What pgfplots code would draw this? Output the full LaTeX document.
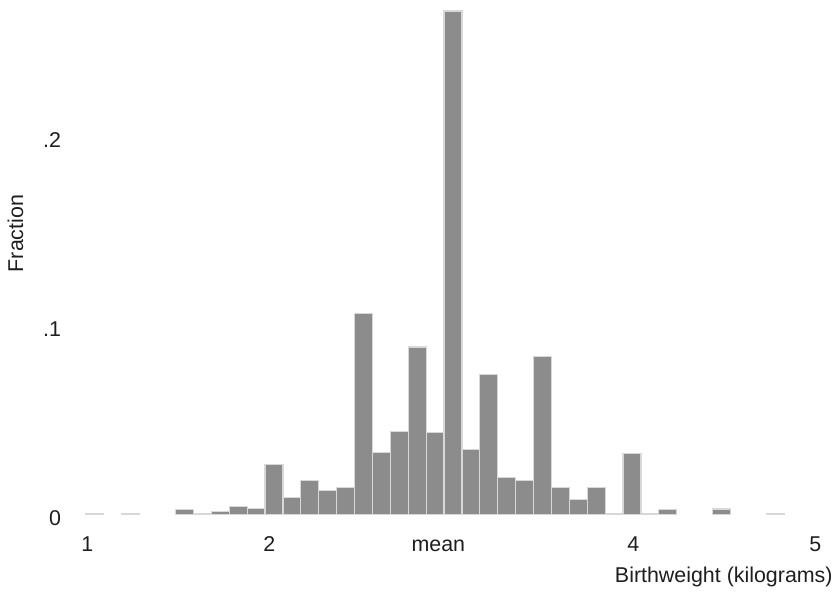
\documentclass[border=0pt]{standalone}
\usepackage{fontspec}
\setmainfont{Liberation Sans}
\usepackage{pgfplots}
\pgfplotsset{compat=1.18}
\definecolor{barfill}{HTML}{8C8C8C}
\definecolor{barline}{HTML}{D8D8D8}
\definecolor{txt}{HTML}{1E1E1E}

\begin{document}
\begin{tikzpicture}[font=\fontsize{10.7pt}{12.8pt}\selectfont]
% page frame: the axis box's lower left corner sits at (0,0)
\path[use as bounding box] (-35pt,-39.75pt) rectangle (384.5pt,257.25pt);
\begin{axis}[
    scale only axis,
    width=380pt, height=255.15pt,
    xmin=0.90522, xmax=5.08104,
    ymin=0, ymax=0.27,
    clip=false,
    axis line style={draw=none},
    tick style={draw=none},
    /pgf/number format/assume math mode=true,
    xtick={1,2,2.929,4,5},
    xticklabels={1,2,mean,4,5},
    ytick={0,0.1,0.2},
    yticklabels={0,.1,.2},
    xticklabel style={anchor=base, yshift=-14.25pt, text=txt},
    yticklabel style={anchor=base east, yshift=-5.25pt, xshift=-1pt, text=txt},
    ybar, bar shift=0pt, bar width=0.09835,
]
% fraction of births per bin (bin width about 0.098 kg); empty bins left out
\addplot[fill=barfill, draw=barline, line width=0.6pt] coordinates {
    (1.0423,0.0005) (1.2390,0.0005)
    (1.5341,0.0028) (1.6324,0.0007) (1.7308,0.0018) (1.8291,0.0041)
    (1.9275,0.0031) (2.0258,0.0264) (2.1242,0.0090) (2.2225,0.0181)
    (2.3209,0.0126) (2.4192,0.0144) (2.5176,0.1062) (2.6159,0.0327)
    (2.7143,0.0441) (2.8126,0.0886) (2.9110,0.0433) (3.0093,0.2664)
    (3.1077,0.0345) (3.2060,0.0742) (3.3044,0.0195) (3.4027,0.0181)
    (3.5011,0.0835) (3.5994,0.0142) (3.6978,0.0080) (3.7961,0.0142)
    (3.8945,0.0005) (3.9928,0.0322) (4.0912,0.0005) (4.1895,0.0026)
    (4.4846,0.0029) (4.7796,0.0005)
};
\node[anchor=east, inner sep=0pt, text=txt] at (axis cs:5.0975,-0.03307) {Birthweight (kilograms)};
\node[rotate=90, inner sep=0pt, text=txt] at (axis cs:0.6058,0.1487) {Fraction};
\end{axis}
\end{tikzpicture}
\end{document}
